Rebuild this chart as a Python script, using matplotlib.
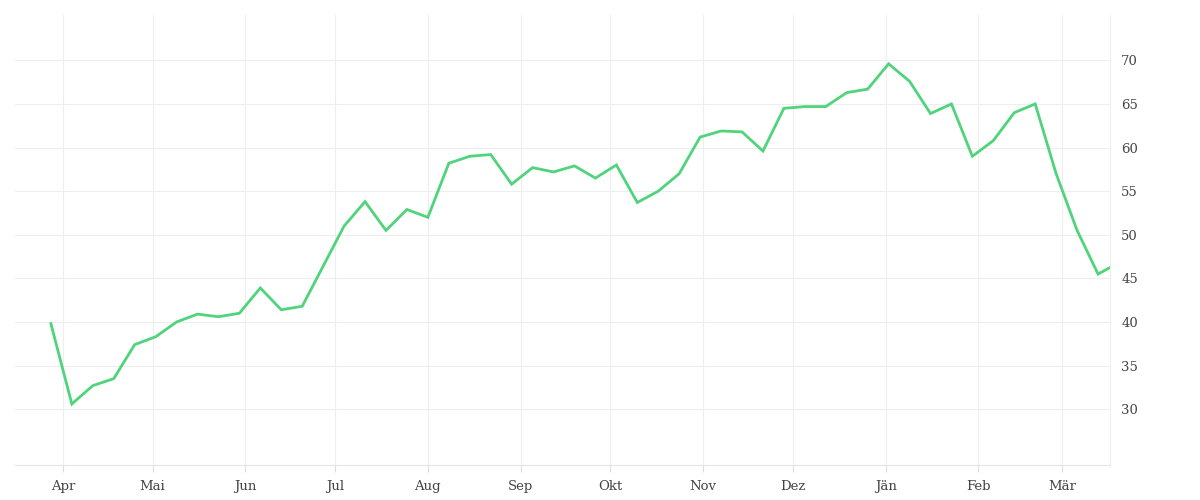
import pandas as pd
import numpy as np
import matplotlib.pyplot as plt
import matplotlib.dates as mdates

## Daten (wöchentlich)
start = "2022-03-28"
values = [39.8, 30.6, 32.7, 33.5, 37.4, 38.3, 40.0, 40.9, 40.6, 41.0,
          43.9, 41.4, 41.8, 46.4, 51.0, 53.8, 50.5, 52.9, 52.0, 58.2,
          59.0, 59.2, 55.8, 57.7, 57.2, 57.9, 56.5, 58.0, 53.7, 55.0,
          57.0, 61.2, 61.9, 61.8, 59.6, 64.5, 64.7, 64.7, 66.3, 66.7,
          69.6, 67.6, 63.9, 65.0, 59.0, 60.8, 64.0, 65.0, 57.0, 50.5,
          45.5, 46.8]
month_labels = ["Apr", "Mai", "Jun", "Jul", "Aug", "Sep", "Okt", "Nov",
                "Dez", "Jän", "Feb", "Mär"]
y_ticks = [30, 35, 40, 45, 50, 55, 60, 65, 70]

dates = pd.date_range(start, periods=len(values), freq="7D")
month_starts = pd.date_range("2022-04-01", periods=12, freq="MS")

fig = plt.figure(figsize=(12, 5), dpi=100)
ax = fig.add_axes([15/1200, 35/500, 1095/1200, 450/500])

ax.plot(dates, values, color="#4fd47c", lw=2.0, solid_joinstyle="miter")

ax.set_xlim(pd.Timestamp("2022-03-16"), pd.Timestamp("2023-03-17"))
ax.set_ylim(23.6, 75.2)

ax.set_xticks(month_starts)
ax.set_xticklabels(month_labels)
ax.set_yticks(y_ticks)
ax.yaxis.tick_right()

for lab in ax.get_xticklabels() + ax.get_yticklabels():
    lab.set_family("DejaVu Serif")
    lab.set_fontsize(9.5)
    lab.set_color("#444444")

ax.tick_params(axis="y", length=0, pad=8)
ax.tick_params(axis="x", length=5, color="#dddddd", pad=6)
ax.grid(True, color="#eeeeee", lw=0.8)
for s in ax.spines.values():
    s.set_visible(False)
ax.spines["bottom"].set_visible(True)
ax.spines["bottom"].set_color("#e4e4e4")
ax.spines["right"].set_visible(True)
ax.spines["right"].set_color("#eeeeee")

fig.savefig("out.png")
